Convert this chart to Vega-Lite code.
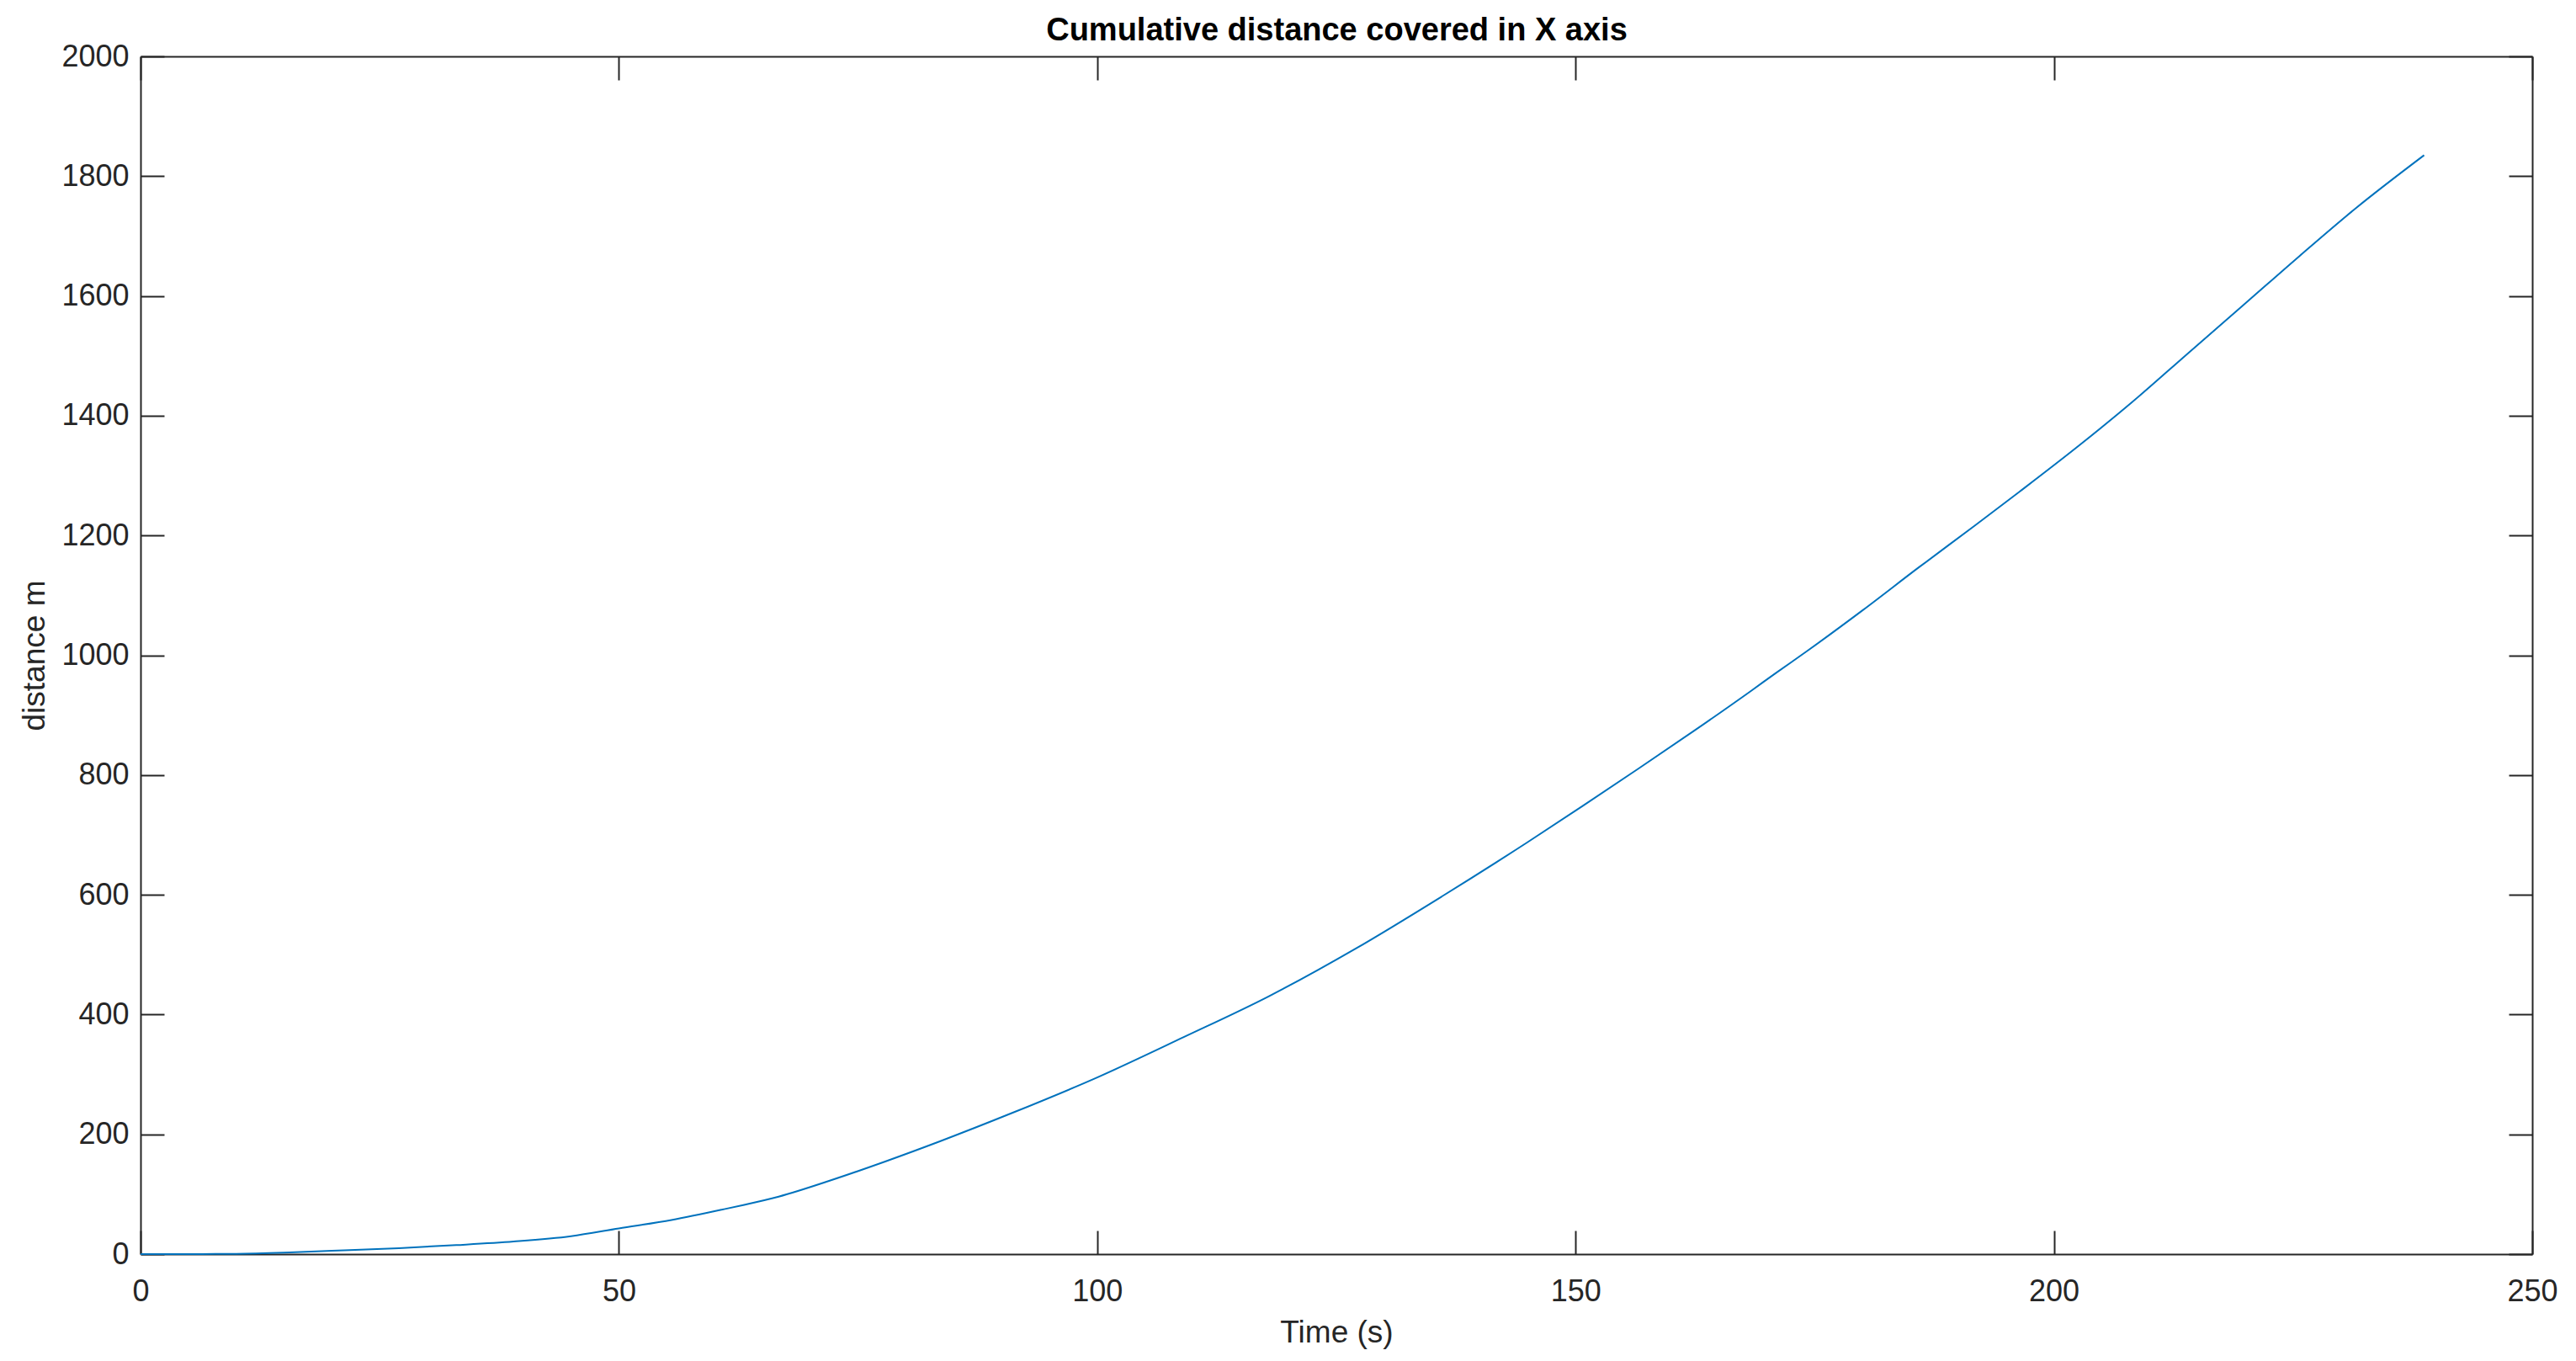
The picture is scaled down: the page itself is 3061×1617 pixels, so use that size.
{
  "$schema": "https://vega.github.io/schema/vega-lite/v6.json",
  "width": 2842,
  "height": 1423,
  "autosize": {"type": "none"},
  "padding": {"left": 167, "top": 67, "right": 52, "bottom": 127},
  "background": "white",
  "data": {
    "values": [
      {"t": 0, "d": 0},
      {"t": 5, "d": 0},
      {"t": 10, "d": 0.5},
      {"t": 15, "d": 2.5},
      {"t": 20, "d": 5.5},
      {"t": 27, "d": 10},
      {"t": 33, "d": 15},
      {"t": 39, "d": 21},
      {"t": 45, "d": 30},
      {"t": 50, "d": 43},
      {"t": 55.5, "d": 57},
      {"t": 61, "d": 75},
      {"t": 63, "d": 82},
      {"t": 66.7, "d": 96},
      {"t": 72.3, "d": 124},
      {"t": 77.9, "d": 155},
      {"t": 83.5, "d": 188},
      {"t": 91, "d": 235},
      {"t": 100, "d": 295},
      {"t": 109, "d": 362},
      {"t": 118, "d": 431},
      {"t": 127, "d": 510},
      {"t": 136, "d": 597},
      {"t": 145, "d": 688},
      {"t": 150.7, "d": 748},
      {"t": 156.6, "d": 811},
      {"t": 162.4, "d": 874},
      {"t": 168.3, "d": 940},
      {"t": 171, "d": 971},
      {"t": 174.2, "d": 1007},
      {"t": 180, "d": 1075},
      {"t": 185.9, "d": 1147},
      {"t": 191.7, "d": 1216},
      {"t": 196.4, "d": 1273},
      {"t": 202.3, "d": 1346},
      {"t": 208.2, "d": 1423},
      {"t": 214, "d": 1504},
      {"t": 219.9, "d": 1586},
      {"t": 225.7, "d": 1667},
      {"t": 231.6, "d": 1747},
      {"t": 238.7, "d": 1835}
    ]
  },
  "layer": [
    {
      "mark": {"type": "line", "color": "#0072BD", "strokeWidth": 2, "interpolate": "monotone"},
      "encoding": {
        "x": {
          "field": "t", "type": "quantitative",
          "scale": {"domain": [0, 250], "nice": false, "zero": false},
          "axis": {
            "orient": "bottom",
            "title": "Time (s)",
            "values": [0, 50, 100, 150, 200, 250],
            "format": "d",
            "labelFlush": false,
            "labelPadding": 55,
            "titleX": 1421,
            "titleY": 104,
            "titleBaseline": "alphabetic",
            "titleAnchor": null
          }
        },
        "y": {
          "field": "d", "type": "quantitative",
          "scale": {"domain": [0, 2000], "nice": false, "zero": false},
          "axis": {
            "orient": "left",
            "title": "distance m",
            "values": [0, 200, 400, 600, 800, 1000, 1200, 1400, 1600, 1800, 2000],
            "format": "d",
            "labelFlush": false,
            "labelPadding": 42,
            "titleX": -115,
            "titleY": 711.5,
            "titleAngle": -90,
            "titleBaseline": "alphabetic",
            "titleAnchor": null
          }
        }
      }
    },
    {
      "mark": {"type": "line", "opacity": 0},
      "encoding": {
        "x": {
          "field": "t", "type": "quantitative",
          "axis": {
            "orient": "top",
            "title": "Cumulative distance covered in X axis",
            "titleFontWeight": "bold",
            "titleColor": "#000000",
            "titleFontSize": 38,
            "titleX": 1421,
            "titleY": -20,
            "titleAlign": "center",
            "titleBaseline": "alphabetic",
            "titleAnchor": null,
            "labels": false,
            "values": [0, 50, 100, 150, 200, 250]
          }
        },
        "y": {
          "field": "d", "type": "quantitative",
          "axis": {
            "orient": "right",
            "title": null,
            "labels": false,
            "values": [0, 200, 400, 600, 800, 1000, 1200, 1400, 1600, 1800, 2000]
          }
        }
      }
    }
  ],
  "resolve": {"axis": {"x": "independent", "y": "independent"}},
  "config": {
    "view": {"stroke": null},
    "axis": {
      "grid": false,
      "domainColor": "#262626",
      "domainWidth": 2,
      "tickColor": "#262626",
      "tickWidth": 2,
      "tickSize": -28,
      "labelFont": "Liberation Sans",
      "labelFontSize": 36,
      "labelColor": "#262626",
      "titleFont": "Liberation Sans",
      "titleFontSize": 37,
      "titleFontWeight": "normal",
      "titleColor": "#262626"
    }
  }
}
